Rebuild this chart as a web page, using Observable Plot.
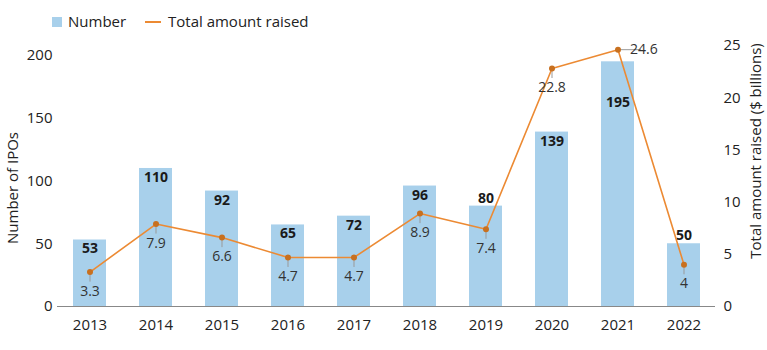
<!DOCTYPE html>
<html>
<head>
<meta charset="utf-8">
<script src="https://cdn.jsdelivr.net/npm/d3@7"></script>
<script src="https://cdn.jsdelivr.net/npm/@observablehq/plot@0.6"></script>
<style>
  body { margin: 0; background: #fff; font-family: "Open Sans", sans-serif; }
  #legend { position: relative; height: 34px; width: 767px; font-size: 15px; color: #222; }
  #legend .sw { position: absolute; left: 52px; top: 17px; width: 10px; height: 10px; background: #a8d0eb; }
  #legend .ln { position: absolute; left: 145px; top: 21px; width: 16px; height: 2px; background: #ec8a33; }
  #legend .t1 { position: absolute; left: 68px; top: 11px; }
  #legend .t2 { position: absolute; left: 168px; top: 11px; }
  svg { overflow: visible; }
</style>
</head>
<body>
<div id="legend"><div class="sw"></div><span class="t1">Number</span><div class="ln"></div><span class="t2">Total amount raised</span></div>
<div id="chart"></div>
<script>
const years = ["2013","2014","2015","2016","2017","2018","2019","2020","2021","2022"];
const numbers = [53, 110, 92, 65, 72, 96, 80, 139, 195, 50];
const amounts = [3.3, 7.9, 6.6, 4.7, 4.7, 8.9, 7.4, 22.8, 24.6, 4];
const amountLabels = ["3.3","7.9","6.6","4.7","4.7","8.9","7.4","22.8","24.6","4"];
const leftTicks = [0, 50, 100, 150, 200];
const rightTicks = [0, 5, 10, 15, 20, 25];
const countLabelAbove = ["2019", "2022"];
const countLabelLow = ["2021"];
const sideLabelYears = ["2021"];

const K = 208 / 25; // right-axis to left-axis conversion
const data = years.map((year, i) => ({year, n: numbers[i], amt: amounts[i], amtY: amounts[i] * K, lab: amountLabels[i]}));
const below = data.filter(d => !sideLabelYears.includes(d.year));
const side = data.filter(d => sideLabelYears.includes(d.year));
const inside = data.filter(d => !countLabelAbove.includes(d.year) && !countLabelLow.includes(d.year));

const font = "Open Sans, sans-serif";
const chart = Plot.plot({
  width: 767,
  height: 316,
  marginTop: 11,
  marginBottom: 44,
  marginLeft: 53,
  marginRight: 47,
  style: {fontFamily: font, fontSize: "15px", color: "#222", background: "#fff", overflow: "visible"},
  x: {type: "band", domain: years, paddingInner: 0.5, paddingOuter: 0.25, label: null},
  y: {domain: [0, 208], label: null},
  marks: [
    Plot.barY(data, {x: "year", y: "n", fill: "#a8d0eb"}),
    Plot.ruleY([0], {stroke: "#888", strokeWidth: 1, insetLeft: 4, insetRight: 5}),
    Plot.axisX({tickSize: 0, tickPadding: 13, fontSize: 15, fill: "#222"}),
    Plot.axisY({anchor: "left", ticks: leftTicks, tickSize: 0, tickPadding: 1, fontSize: 15, fill: "#222", label: null}),
    Plot.axisY({anchor: "right", ticks: rightTicks.map(v => v * K), tickFormat: d => String(Math.round(d / K)), tickSize: 0, tickPadding: 3, fontSize: 15, fill: "#222", label: null}),
    Plot.text(["Number of IPOs"], {frameAnchor: "left", textAnchor: "middle", dx: -40, dy: 12, rotate: -90, fontSize: 15, fill: "#222"}),
    Plot.text(["Total amount raised ($ billions)"], {frameAnchor: "right", textAnchor: "middle", dx: 36, dy: -25, rotate: -90, fontSize: 15, fill: "#222"}),
    Plot.text(inside, {x: "year", y: "n", text: d => String(d.n), dy: 9, fontWeight: "bold", fontSize: 14, fill: "#1a1a1a"}),
    Plot.text(data.filter(d => countLabelLow.includes(d.year)), {x: "year", y: "n", text: d => String(d.n), dy: 41, fontWeight: "bold", fontSize: 14, fill: "#1a1a1a"}),
    Plot.text(data.filter(d => countLabelAbove.includes(d.year)), {x: "year", y: "n", text: d => String(d.n), dy: -8, fontWeight: "bold", fontSize: 14, fill: "#1a1a1a"}),
    Plot.ruleX(below, {x: "year", y1: "amtY", y2: d => d.amtY - 8, stroke: "#999", strokeWidth: 1}),
    Plot.tickY(side, {x: "year", y: "amtY", stroke: "#999", strokeWidth: 1, insetLeft: 19, insetRight: -7}),
    Plot.line(data, {x: "year", y: "amtY", stroke: "#ec8a33", strokeWidth: 1.6}),
    Plot.dot(data, {x: "year", y: "amtY", r: 3, fill: "#c8701f", stroke: "none"}),
    Plot.text(below, {x: "year", y: "amtY", text: "lab", dy: 19, fontSize: 14, fill: "#333"}),
    Plot.text(side, {x: "year", y: "amtY", text: "lab", dx: 12, textAnchor: "start", fontSize: 14, fill: "#333"})
  ]
});
document.getElementById("chart").appendChild(chart);
</script>
</body>
</html>
